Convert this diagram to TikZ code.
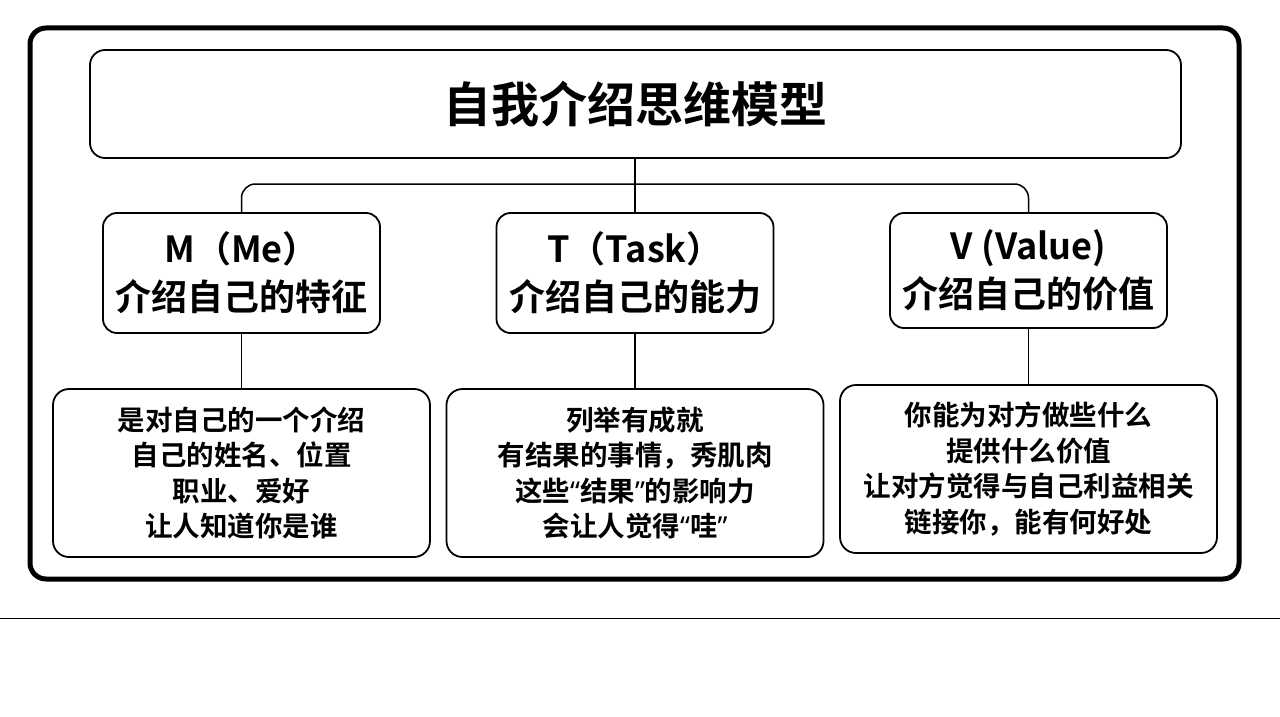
\documentclass[tikz,border=0pt]{standalone}
\usepackage{fontspec}
\setmainfont{Noto Sans CJK SC Bold}
\newfontfamily\quotefont{Noto Sans}
\newcommand{\openq}{{\quotefont\bfseries “}}
\newcommand{\closeq}{{\quotefont\bfseries ”}}
\usepackage{tikz}

\tikzset{
  titlebox/.style={draw,line width=1.8pt,rounded corners=15pt,minimum width=1091pt,minimum height=108pt,
    font=\fontsize{48}{56}\selectfont},
  headbox/.style={draw,line width=1.8pt,rounded corners=14pt,minimum width=277pt,align=center,
    font=\fontsize{36}{48}\selectfont},
  textbox/.style={draw,line width=1.8pt,rounded corners=16pt,minimum width=377pt,minimum height=168pt,align=center,
    font=\fontsize{27.5}{35.5}\selectfont},
  conn/.style={line width=1.5pt}
}

\begin{document}
\begin{tikzpicture}[x=1pt,y=-1pt]
\useasboundingbox (0,0) rectangle (1280,717);
\draw[line width=5pt,rounded corners=16pt] (30,28) rectangle (1239,579);
\draw[line width=1pt] (0,618) -- (1280,618);
% title
\node[titlebox] (title) at (635.5,104) {自我介绍思维模型};
% three parts
\node[headbox,minimum height=120pt] (me) at (241.5,273) {M（Me）\\介绍自己的特征};
\node[headbox,minimum height=120pt] (task) at (635,273) {T（Task）\\介绍自己的能力};
\node[headbox,minimum height=115pt] (value) at (1028.5,270.5) {V (Value)\\介绍自己的价值};
% details
\node[textbox] (medet) at (241.5,473) {是对自己的一个介绍\\自己的姓名、位置\\职业、爱好\\让人知道你是谁};
\node[textbox] (taskdet) at (635,473) {列举有成就\\有结果的事情，秀肌肉\\这些\openq 结果\closeq 的影响力\\会让人觉得\openq 哇\closeq};
\node[textbox] (valuedet) at (1028.5,469) {你能为对方做些什么\\提供什么价值\\让对方觉得与自己利益相关\\链接你，能有何好处};
% connectors
\coordinate (joint) at (635,184);
\draw[conn] (title.south -| task.north) -- (task.north);
\draw[conn,rounded corners=14pt] (me.north) |- (joint) -| (value.north);
\draw[conn] (me.south) -- (medet.north);
\draw[conn] (task.south) -- (taskdet.north);
\draw[conn] (value.south) -- (valuedet.north);
\end{tikzpicture}
\end{document}
